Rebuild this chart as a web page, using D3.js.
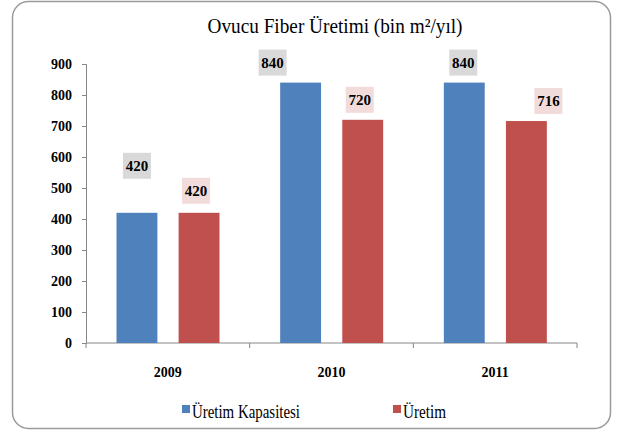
<!DOCTYPE html>
<html><head><meta charset="utf-8">
<script src="https://cdn.jsdelivr.net/npm/d3@7"></script>
<style>body{margin:0;background:#fff}svg{display:block}</style>
</head><body>
<script>
const categories = ["2009", "2010", "2011"];
const seriesNames = ["Üretim Kapasitesi", "Üretim"];
const kapasite = [420, 840, 840];
const uretim = [420, 720, 716];
const yTicks = [0, 100, 200, 300, 400, 500, 600, 700, 800, 900];
const colors = ["#4f81bd", "#c0504d"];
const labelFills = ["#d9d9d9", "#f2dcdb"];
// label nudges (pixels) per [series][category]
const labelDx = [[0, -28, -1], [-3, -3, 22]];
const labelDy = [[-27, 0, 0], [-2, 0, 0]];

const W = 619, H = 432;
const FONT = "Liberation Serif";
const svg = d3.select("body").append("svg").attr("width", W).attr("height", H);
svg.append("rect").attr("x", 12.5).attr("y", 1.5).attr("width", 598).attr("height", 427)
  .attr("rx", 16).attr("fill", "#fff").attr("stroke", "#9a9a9a").attr("stroke-width", 1.5);

const x0 = 86, x1 = 577, yTop = 64, yBot = 343;
const x = d3.scaleBand().domain(categories).range([x0, x1]);
const xs = d3.scaleBand().domain([0, 1]).range([30.5, 133.5]).paddingInner(21 / 61.5);
const y = d3.scaleLinear().domain([0, 900]).range([yBot, yTop]);

// title
svg.append("text").attr("x", 335).attr("y", 33).attr("text-anchor", "middle")
  .attr("font-family", FONT).attr("font-size", 22).attr("fill", "#000")
  .attr("textLength", 255).attr("lengthAdjust", "spacingAndGlyphs")
  .text("Ovucu Fiber Üretimi (bin m²/yıl)");

// y axis
const yAxis = d3.axisLeft(y).tickValues(yTicks).tickSize(4).tickPadding(10);
const gy = svg.append("g").attr("transform", `translate(${x0},0)`).call(yAxis);
gy.attr("font-family", FONT).attr("font-size", 14);
gy.select(".domain").attr("stroke", "#868686");
gy.selectAll(".tick line").attr("stroke", "#868686");
gy.selectAll(".tick text").attr("font-family", FONT).attr("font-weight", "bold")
  .attr("font-size", 14).attr("fill", "#000");

// x axis
svg.append("line").attr("x1", x0).attr("x2", x1).attr("y1", yBot).attr("y2", yBot).attr("stroke", "#868686");
const bounds = categories.map(c => x(c)).concat([x1]);
svg.selectAll(".xt").data(bounds).join("line").attr("x1", d => d).attr("x2", d => d)
  .attr("y1", yBot).attr("y2", yBot + 5).attr("stroke", "#868686");
svg.selectAll(".xl").data(categories).join("text")
  .attr("x", d => x(d) + x.bandwidth() / 2).attr("y", 377).attr("text-anchor", "middle")
  .attr("font-family", FONT).attr("font-weight", "bold").attr("font-size", 14)
  .text(d => d);

const series = [kapasite, uretim];
series.forEach((vals, si) => {
  const g = svg.append("g");
  g.selectAll("rect").data(vals).join("rect")
    .attr("x", (d, i) => x(categories[i]) + xs(si)).attr("width", xs.bandwidth())
    .attr("y", d => y(d)).attr("height", d => yBot - y(d)).attr("fill", colors[si]);
  const lg = g.selectAll(".lab").data(vals).join("g")
    .attr("transform", (d, i) => `translate(${x(categories[i]) + xs(si) + xs.bandwidth() / 2 + labelDx[si][i]},${y(d) - 20 + labelDy[si][i]})`);
  lg.append("rect").attr("x", -14).attr("y", -13).attr("width", 28).attr("height", 26).attr("fill", labelFills[si]);
  lg.append("text").attr("text-anchor", "middle").attr("dy", "0.35em")
    .attr("font-family", FONT).attr("font-weight", "bold").attr("font-size", 15)
    .text(d => d);
});

// legend
const leg = [{x: 182, w: 108}, {x: 393, w: 43}];
seriesNames.forEach((n, i) => {
  svg.append("rect").attr("x", leg[i].x).attr("y", 405).attr("width", 8).attr("height", 8).attr("fill", colors[i]);
  svg.append("text").attr("x", leg[i].x + 10).attr("y", 418).attr("font-family", FONT)
    .attr("font-size", 19).attr("textLength", leg[i].w).attr("lengthAdjust", "spacingAndGlyphs").text(n);
});
</script>
</body></html>
